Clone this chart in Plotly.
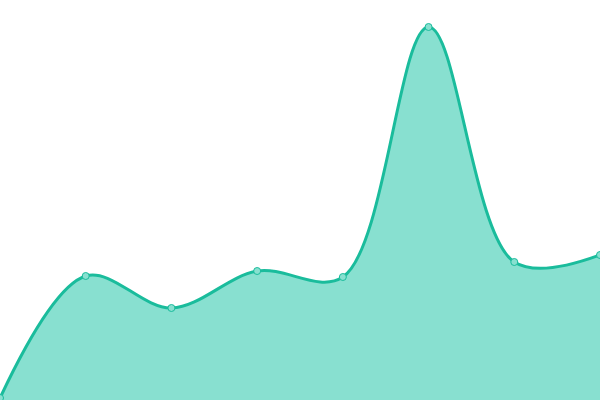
import plotly.graph_objects as go

categories = [0, 1, 2, 3, 4, 5, 6, 7]
values = [2, 124, 92, 129, 123, 373, 138, 145]

fig = go.Figure()
fig.add_trace(go.Scatter(
    x=categories, y=values,
    mode="lines+markers",
    line=dict(color="#1abc9c", width=3, shape="spline", smoothing=1.0),
    fill="tozeroy",
    fillcolor="#88e0d0",
    marker=dict(size=7, color="#88e0d0", line=dict(color="#1abc9c", width=1)),
    hoverinfo="skip",
))
fig.update_layout(
    width=600, height=400,
    margin=dict(l=0, r=0, t=0, b=0),
    paper_bgcolor="white", plot_bgcolor="white",
    showlegend=False,
    xaxis=dict(range=[0, 7], visible=False, showgrid=False, zeroline=False),
    yaxis=dict(range=[0, 400], visible=False, showgrid=False, zeroline=False),
)
fig.write_html(
    "out.html",
    config={"displayModeBar": False},
    post_script="document.body.style.margin='0';document.body.style.overflow='hidden';",
)
